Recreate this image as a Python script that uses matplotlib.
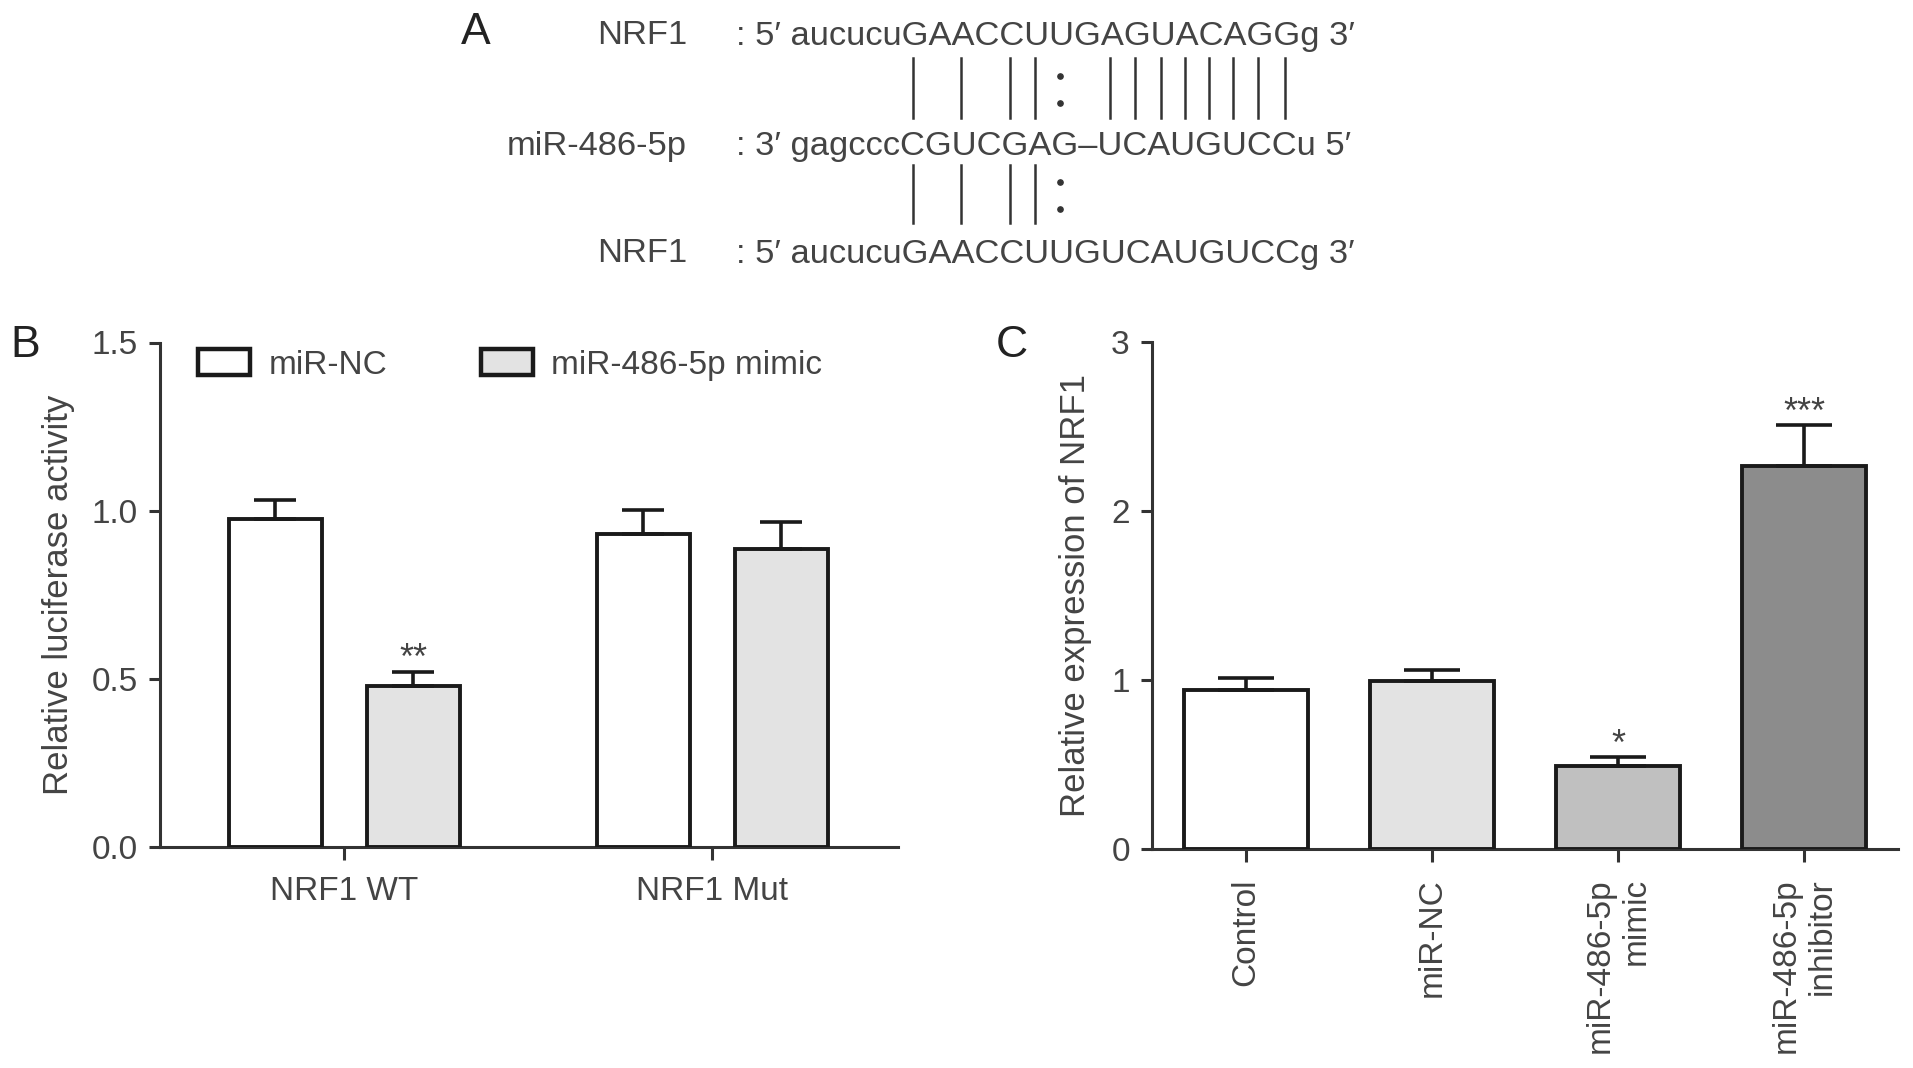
import numpy as np
import matplotlib
matplotlib.use("Agg")
import matplotlib.pyplot as plt

plt.rcParams['font.family'] = ['Liberation Sans', 'DejaVu Sans']

# ---- data ----
# panel A: sequences
nrf1_wt = "GAACCUUGAGUACAGG"
mir_seq = "CGUCGAG\u2013UCAUGUCC"
nrf1_mut = "GAACCUUGUCAUGUCC"

# panel B: luciferase
groups_b = ['NRF1 WT', 'NRF1 Mut']
series_b = ['miR-NC', 'miR-486-5p mimic']
nc_mean = [0.976, 0.929]
nc_err = [0.055, 0.073]
mimic_mean = [0.477, 0.886]
mimic_err = [0.044, 0.079]
stars_b = ['**', '']

# panel C: NRF1 expression
labels_c = ['Control', 'miR-NC', 'miR-486-5p\nmimic', 'miR-486-5p\ninhibitor']
mean_c = [0.943, 0.994, 0.494, 2.266]
err_c = [0.071, 0.063, 0.049, 0.245]
stars_c = ['', '', '*', '***']

W, H = 1913, 1068
fig = plt.figure(figsize=(W / 100, H / 100), dpi=100)
txt = '#444444'
edge = '#1a1a1a'

# ---------- panel A ----------
fs_a = 24.8
rows_y = [36, 146, 254]
fig.text(461 / W, 1 - 33 / H, 'A', fontsize=32, color='#222', ha='left', va='center')
names = ['NRF1', 'miR-486-5p', 'NRF1']
seqs = [": 5\u2032 aucucu" + nrf1_wt + "g 3\u2032",
        ": 3\u2032 gagccc" + mir_seq + "u 5\u2032",
        ": 5\u2032 aucucu" + nrf1_mut + "g 3\u2032"]
for nm, sq, yy in zip(names, seqs, rows_y):
    fig.text(687 / W, 1 - yy / H, nm, fontsize=fs_a, color=txt, ha='right', va='center')
    fig.text(736 / W, 1 - yy / H, sq, fontsize=fs_a, color=txt, ha='left', va='center')

renderer = fig.canvas.get_renderer()


def text_width(s):
    t = fig.text(0, 0, s, fontsize=fs_a)
    w = t.get_window_extent(renderer).width
    t.remove()
    return w


# x centre of every upper-case letter of the NRF1 line, so the pairing bars sit under them
prefix = ": 5\u2032 aucucu"
x0 = 736
char_x = []
for k in range(len(nrf1_wt)):
    left = text_width(prefix + nrf1_wt[:k])
    right = text_width(prefix + nrf1_wt[:k + 1])
    char_x.append(x0 + (left + right) / 2 - 2)

watson = {('A', 'U'), ('U', 'A'), ('G', 'C'), ('C', 'G')}
wobble = {('G', 'U'), ('U', 'G')}


def draw_pairs(a, b, y_top, y_bot):
    for k, (p, q) in enumerate(zip(a, b)):
        xx = char_x[k] / W
        if (p, q) in watson:
            fig.add_artist(plt.Line2D([xx, xx], [1 - y_top / H, 1 - y_bot / H],
                                      color='#333', lw=1.8))
        elif (p, q) in wobble:
            for yd in (y_top + 0.3 * (y_bot - y_top), y_top + 0.75 * (y_bot - y_top)):
                fig.add_artist(plt.Line2D([xx], [1 - yd / H], marker='o', ms=3.8,
                                          color='#333', ls='none'))


draw_pairs(nrf1_wt, mir_seq, 58, 118)
draw_pairs(nrf1_mut, mir_seq, 165, 223)

# ---------- panel B ----------
axB = fig.add_axes([160 / W, 1 - 846.7 / H, (898 - 160) / W, (846.7 - 342.5) / H])
xb = np.arange(len(groups_b))
off, bw = 0.1875, 0.253
ekw = dict(elinewidth=2.6, capthick=2.6, ecolor=edge)
axB.bar(xb - off, nc_mean, bw, yerr=[np.zeros(2), nc_err], capsize=15,
        color='white', edgecolor=edge, linewidth=2.8, error_kw=ekw, label=series_b[0], zorder=3)
axB.bar(xb + off, mimic_mean, bw, yerr=[np.zeros(2), mimic_err], capsize=15,
        color='#e3e3e3', edgecolor=edge, linewidth=2.8, error_kw=ekw, label=series_b[1], zorder=3)
for i, s in enumerate(stars_b):
    if s:
        axB.text(xb[i] + off, mimic_mean[i] + mimic_err[i] + 0.008, s, ha='center', va='baseline',
                 fontsize=26, color=txt)
axB.set_xlim(-0.501, 1.505)
axB.set_ylim(0, 1.5)
axB.set_yticks([0, 0.5, 1.0, 1.5])
axB.set_yticklabels(['0.0', '0.5', '1.0', '1.5'])
axB.set_xticks(xb)
axB.set_xticklabels(groups_b)
axB.set_ylabel('Relative luciferase activity', fontsize=25, color=txt, labelpad=12)
leg = axB.legend(loc='upper left', bbox_to_anchor=(0.034, 1.013), ncol=2, frameon=False,
                 fontsize=24, handlelength=1.56, handleheight=0.8, handletextpad=0.55,
                 columnspacing=2.8, borderaxespad=0)
for t in leg.get_texts():
    t.set_color(txt)
for p in leg.get_patches():
    p.set_linewidth(3.2)
fig.text(10 / W, 1 - 345 / H, 'B', fontsize=32, color='#222', ha='left', va='center')

# ---------- panel C ----------
axC = fig.add_axes([1152 / W, 1 - 849 / H, (1898 - 1152) / W, (849 - 342) / H])
xc = np.arange(len(labels_c))
colors_c = ['white', '#e3e3e3', '#c0c0c0', '#8c8c8c']
axC.bar(xc, mean_c, 0.666, yerr=[np.zeros(4), err_c], capsize=20,
        color=colors_c, edgecolor=edge, linewidth=2.8, error_kw=ekw, zorder=3)
for i, s in enumerate(stars_c):
    if s:
        axC.text(xc[i], mean_c[i] + err_c[i] + 0.012, s, ha='center', va='baseline',
                 fontsize=26, color=txt)
axC.set_xlim(-0.504, 3.505)
axC.set_ylim(0, 3)
axC.set_yticks([0, 1, 2, 3])
axC.set_xticks(xc)
axC.set_xticklabels(labels_c, rotation=90, multialignment='right')
axC.set_ylabel('Relative expression of NRF1', fontsize=25, color=txt, labelpad=14)
fig.text(996 / W, 1 - 345 / H, 'C', fontsize=32, color='#222', ha='left', va='center')

for ax in (axB, axC):
    for sp in ('top', 'right'):
        ax.spines[sp].set_visible(False)
    for sp in ('left', 'bottom'):
        ax.spines[sp].set_linewidth(2.2)
        ax.spines[sp].set_color('#333')
    ax.tick_params(axis='both', width=2.2, color='#333', labelsize=24, labelcolor=txt)
    ax.tick_params(axis='y', length=8, pad=8)
    ax.tick_params(axis='x', length=9, pad=12)

fig.savefig('out.png', dpi=100)
